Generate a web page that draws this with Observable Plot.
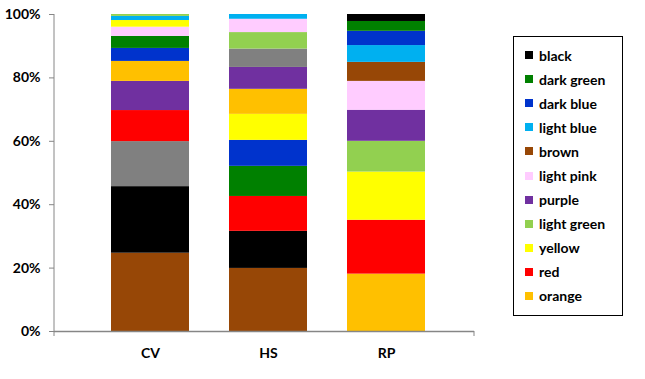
<!DOCTYPE html>
<html>
<head>
<meta charset="utf-8">
<script src="https://cdn.jsdelivr.net/npm/d3@7"></script>
<script src="https://cdn.jsdelivr.net/npm/@observablehq/plot@0.6"></script>
<style>
  body { margin: 0; background: #fff; font-family: Lato, "Open Sans", sans-serif; }
  #wrap { position: relative; width: 645px; height: 379px; }
  #legend { position: absolute; left: 513px; top: 36px; width: 110px; height: 280px;
    border: 1px solid #000; box-sizing: border-box; padding-top: 6px; }
  .item { height: 24.1px; display: flex; align-items: center; font-weight: bold; font-size: 14px; color: #000; }
  .sw { width: 8px; height: 8px; margin-left: 11px; margin-right: 6px; }
</style>
</head>
<body>
<div id="wrap"><div id="chart"></div><div id="legend"></div></div>
<script>
const categories = ["CV", "HS", "RP"];
const colorNames = ["black", "dark green", "dark blue", "light blue", "brown", "light pink", "purple", "light green", "yellow", "red", "orange", "gray"];
const colorHex = ["#000000", "#008000", "#0033CC", "#00B0F0", "#974706", "#FFCCFF", "#7030A0", "#92D050", "#FFFF00", "#FF0000", "#FFC000", "#808080"];
const legendNames = ["black", "dark green", "dark blue", "light blue", "brown", "light pink", "purple", "light green", "yellow", "red", "orange"];

// stack order bottom → top for each bar
const cvColors = ["brown", "black", "gray", "red", "purple", "orange", "dark blue", "dark green", "light pink", "yellow", "light blue", "light green"];
const cvValues = [24.7, 21.0, 14.2, 9.8, 9.2, 6.3, 4.1, 3.8, 2.9, 2.1, 1.3, 0.6];
const hsColors = ["brown", "black", "red", "dark green", "dark blue", "yellow", "orange", "purple", "gray", "light green", "light pink", "light blue"];
const hsValues = [19.9, 11.7, 11.0, 9.5, 8.2, 8.2, 7.9, 6.9, 5.8, 5.2, 4.2, 1.5];
const rpColors = ["orange", "red", "yellow", "light green", "purple", "light pink", "brown", "light blue", "dark blue", "dark green", "black"];
const rpValues = [18.1, 17.0, 15.2, 9.7, 9.8, 9.1, 6.0, 5.3, 4.5, 3.1, 2.2];

const rows = [];
[[cvColors, cvValues], [hsColors, hsValues], [rpColors, rpValues]].forEach(([cs, vs], i) => {
  cs.forEach((c, j) => rows.push({cat: categories[i], color: c, value: vs[j]}));
});

const font = "Lato, 'Open Sans', sans-serif";
const chart = Plot.plot({
  width: 645,
  height: 379,
  marginLeft: 54,
  marginRight: 171,
  marginTop: 14,
  marginBottom: 48,
  style: {fontFamily: font, fontSize: "14px", fontWeight: "bold", color: "#000", background: "#fff"},
  x: {domain: categories, range: [90, 446], paddingInner: 0.335, paddingOuter: 0.1675, label: null},
  y: {domain: [0, 1], label: null},
  color: {domain: colorNames, range: colorHex},
  marks: [
    Plot.barY(rows, Plot.stackY({offset: "normalize", x: "cat", y: "value", fill: "color"})),
    Plot.axisY({ticks: [0, 0.2, 0.4, 0.6, 0.8, 1], tickFormat: d => Math.round(d * 100) + "%", tickSize: 5, tickPadding: 9, stroke: "#868686", fill: "#000", label: null}),
    Plot.axisX({tickSize: 0, tickPadding: 17, fill: "#000", label: null}),
    Plot.ruleY([0], {stroke: "#868686", strokeWidth: 1.5})
  ]
});
document.getElementById("chart").appendChild(chart);

// axis lines
const svg = d3.select(chart);
const yScale = chart.scale("y");
svg.append("line").attr("x1", 54).attr("x2", 54).attr("y1", yScale.apply(1)).attr("y2", yScale.apply(0) + 5)
  .attr("stroke", "#868686");
svg.append("line").attr("x1", 474).attr("x2", 474).attr("y1", yScale.apply(0)).attr("y2", yScale.apply(0) + 5)
  .attr("stroke", "#868686");

const leg = document.getElementById("legend");
legendNames.forEach(n => {
  const d = document.createElement("div");
  d.className = "item";
  const s = document.createElement("span");
  s.className = "sw";
  s.style.background = colorHex[colorNames.indexOf(n)];
  d.appendChild(s);
  d.appendChild(document.createTextNode(n));
  leg.appendChild(d);
});
</script>
</body>
</html>
